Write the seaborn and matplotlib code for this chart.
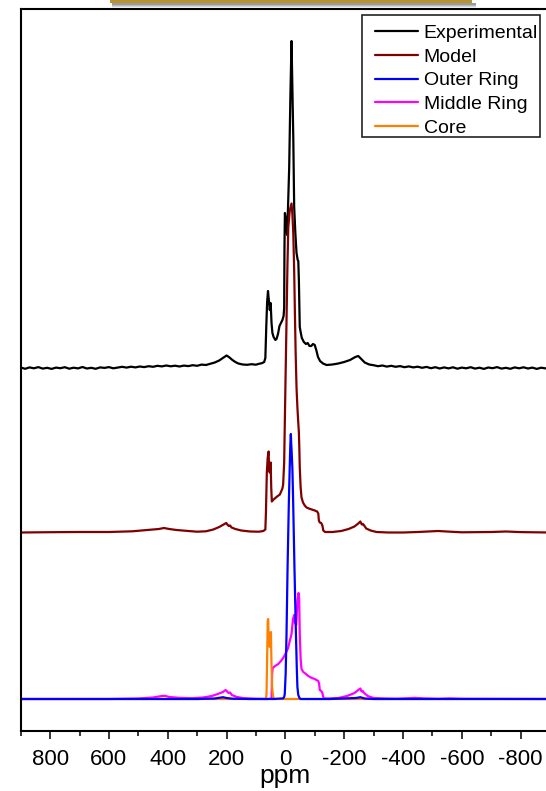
import numpy as np
import pandas as pd
import matplotlib
matplotlib.use("Agg")
import matplotlib.pyplot as plt
import matplotlib.ticker as mticker
from matplotlib.patches import Rectangle
import seaborn as sns

# ── Data (ppm positions, intensity above each trace's own baseline) ──
exp_ppm = [900, 885, 870, 855, 840, 825, 810, 795, 780, 765, 750, 735, 720, 705, 690, 675, 660, 645,
           630, 615, 600, 585, 570, 555, 540, 525, 510, 495, 480, 465, 450, 435, 420, 405, 390, 375,
           360, 345, 330, 315, 300, 285, 270, 255, 240, 225, 210, 200, 192, 180, 170, 160, 145, 130,
           115, 100, 90, 80, 72, 68, 65, 62, 59, 56, 53, 50, 47, 44, 40, 34, 30, 25, 20, 15, 10, 6,
           4, 3, 1.5, -1, -3, -6, -9, -13, -17, -21, -24, -27, -30, -34, -38, -42, -44, -46, -49, -52,
           -56, -63, -70, -76, -82, -88, -94, -100, -106, -111, -118, -128, -140, -160, -180, -200,
           -220, -238, -248, -258, -270, -285, -300, -315, -330, -345, -360, -375, -390, -405, -420,
           -435, -450, -465, -480, -495, -510, -525, -540, -555, -570, -585, -600, -615, -630, -645,
           -660, -675, -690, -705, -720, -735, -750, -765, -780, -795, -810, -825, -840, -855, -870,
           -885, -900]
exp_int = [0.5, -0.8, 0.6, -0.3, 0.9, -0.6, 0.2, -0.9, 0.4, -0.2, 0.8, -0.7, 0.3, -0.4, 1.0, -0.5, 0.2, -0.8,
           0.6, 0.1, 0.9, -0.3, 0.5, 1.2, 0.4, 1.3, 0.6, 1.5, 0.9, 1.8, 1.2, 2.2, 1.6, 2.5, 1.7, 2.3,
           1.5, 2.4, 1.9, 2.8, 2.2, 3.4, 3.0, 4.3, 5.5, 7.5, 10.5, 12.5, 11, 8, 6, 4.5, 3.5, 3.2,
           3.8, 3.3, 4.2, 4.8, 6, 10, 40, 66, 77, 68, 58, 65, 45, 35, 31, 28, 29, 34, 42, 45, 48, 52,
           60, 120, 155, 150, 145, 133, 160, 200, 270, 327, 280, 230, 161, 135, 115, 108, 107, 88, 41, 36,
           30, 26, 24, 25, 22, 22, 24, 23, 17, 11, 7, 4.5, 3, 3.5, 4.5, 6,
           8, 11, 12, 9, 5.5, 3.5, 2.8, 1.8, 2.5, 1.4, 2.2, 1.2, 1.9, 0.8, 1.6,
           0.6, 1.3, 0.2, 1.1, -0.2, 0.8, -0.5, 0.6, -0.4, 0.7, -0.7, 0.4, -0.3, 0.8, -0.6,
           0.3, -0.9, 0.5, -0.2, 0.9, -0.6, 0.2, -0.8, 0.6, -0.3, 0.7, -0.5, 0.4, -0.9, 0.3,
           -0.4, 0.5]

model_ppm = [900, 800, 700, 600, 520, 470, 430, 413, 395, 370, 330, 300, 270, 245, 225, 210, 201, 196,
             192, 188, 183, 170, 150, 120, 90, 75, 68, 66, 63, 60, 57, 55, 53, 50, 48, 46, 40, 36, 28,
             18.7, 10, 7.5, 4, 1.7, -1, -4, -7, -10, -15, -21, -24, -27, -30, -32.5, -35, -38, -41,
             -43.5, -45, -46, -47.5, -49, -52, -55, -60, -66, -72, -80, -90, -100, -108, -112, -114,
             -117, -122, -126, -129, -135, -160, -190, -215, -235, -248, -255, -260, -264, -268, -275,
             -290, -310, -350, -400, -450, -520, -560, -600, -700, -750, -800, -900]
model_int = [0, 0.3, 0.5, 0.5, 1.2, 2.5, 3.5, 4.5, 3.5, 2.5, 1.5, 0.8, 1.2, 3, 5.5, 8, 9.5, 7.5,
             6.5, 7, 5, 3.5, 2, 1, 0.8, 1.5, 3, 20, 60, 75, 81, 62, 60, 70, 45, 31, 33, 34, 36,
             38, 44, 48, 70, 112, 160, 212, 265, 305, 322, 329, 318, 299, 262, 219, 180, 145, 125,
             112, 105, 100, 85, 65, 45, 35, 30, 27, 25, 24, 23, 22, 21, 19, 12,
             10, 9.5, 7, 2, 0.5, 0.5, 1.5, 3.5, 6, 9, 11, 8, 8.5, 7, 4,
             2, 0.5, 0, 0, 0.5, 1.5, 0.8, 0.2, 0.5, 1, 0.4, 0]

outer_ppm = [900, 300, 240, 212, 200, 180, 120, 40, 15, 8, 4, 2, -1, -4, -7.5, -12, -16, -17, -18.7,
             -20, -21, -24, -26.5, -31, -36, -39, -41, -44, -48, -52, -150, -240, -255, -270, -300, -900]
outer_int = [0, 0, 0.5, 1.8, 1, 0.3, 0, 0, 0.5, 0.5, 2, 5, 25, 65, 131, 198, 245, 255, 265,
             255, 250, 230, 198, 131, 65, 30, 12, 4, 1, 0, 0, 1, 1.8, 0.5, 0, 0]

middle_ppm = [900, 600, 500, 450, 420, 410, 395, 360, 320, 280, 250, 230, 212, 203, 198, 193, 188, 182,
              165, 140, 100, 60, 47, 45, 43, 35, 24, 15, 7.5, 0, -9.5, -15, -21, -26, -30, -33, -37,
              -41, -45, -47, -49, -52, -55, -61, -70, -78, -90, -100, -106, -112, -115, -117, -122,
              -126, -128, -131, -150, -180, -210, -235, -248, -255, -259, -263, -268, -280, -300,
              -340, -380, -420, -440, -470, -520, -560, -600, -900]
middle_int = [0, 0, 0.5, 1.5, 3, 3.2, 2, 1.2, 0.8, 1.5, 3, 5, 7, 9, 7.5, 6, 6.5, 4,
              2, 0.8, 0.2, 0, 0.5, 25, 31, 33, 35, 38, 41, 45, 51, 58, 65, 80, 84, 76, 74,
              98, 106, 100, 65, 40, 30, 27, 25, 23, 21, 20, 19, 18, 15, 9, 8,
              6, 3, 0.5, 0.5, 1, 3, 6, 9, 10.5, 7.5, 8, 6, 3, 1,
              0.5, 0.3, 0.8, 1.2, 0.6, 0.2, 0.6, 0.2, 0]

core_ppm = [900, 70, 66, 64, 62, 60, 58.5, 57, 55, 53, 51, 49, 47.5, 45, 42, 39, 36, -900]
core_int = [0, 0, 0, 5, 40, 78, 80, 65, 55, 52, 60, 67, 40, 12, 3, 0.5, 0, 0]

# vertical stacking offsets (same units as intensities)
offsets = {"Experimental": 331, "Model": 166.5, "Outer Ring": 0, "Middle Ring": 0, "Core": 0}
colors = {"Experimental": "black", "Model": "#800000", "Outer Ring": "#0000ff",
          "Middle Ring": "#ff00ff", "Core": "#ff8000"}

series = {
    "Experimental": (exp_ppm, exp_int),
    "Model": (model_ppm, model_int),
    "Middle Ring": (middle_ppm, middle_int),
    "Core": (core_ppm, core_int),
    "Outer Ring": (outer_ppm, outer_int),
}

sns.set_style("ticks")
plt.rcParams["font.family"] = ["Liberation Sans", "DejaVu Sans"]
plt.rcParams["axes.unicode_minus"] = False
plt.rcParams.update({"text.color": "black", "xtick.color": "black",
                     "axes.labelcolor": "black", "axes.edgecolor": "black"})

fig = plt.figure(figsize=(5.46, 7.91), dpi=100)
W, H = 546, 791
ax = fig.add_axes([20.7 / W, (H - 731) / H, (550 - 20.7) / W, (731 - 9) / H])

handles = {}
for name, (xs, ys) in series.items():
    df = pd.DataFrame({"ppm": xs, "intensity": np.array(ys) + offsets[name]})
    sns.lineplot(data=df, x="ppm", y="intensity", sort=False, estimator=None,
                 color=colors[name], linewidth=1.6, ax=ax)
    handles[name] = ax.lines[-1]

ax.set_xlim(900, -900)
ax.set_ylim(-32, 690)
ax.set_yticks([])
ax.set_ylabel("")
ax.set_xticks(range(800, -801, -200))
ax.xaxis.set_minor_locator(mticker.MultipleLocator(100))
ax.tick_params(axis="x", which="major", length=6, width=1.1, labelsize=16, pad=7,
               direction="out", colors="black")
ax.tick_params(axis="x", which="minor", length=3.4, width=1.1, direction="out", colors="black")
ax.set_xlabel("ppm", fontsize=19, labelpad=-4, color="black")
for sp in ax.spines.values():
    sp.set_linewidth(1.5)
    sp.set_color("black")

order = ["Experimental", "Model", "Outer Ring", "Middle Ring", "Core"]
fig.legend([handles[n] for n in order], order, loc="upper left",
           bbox_to_anchor=(375 / W, 1 - 24.5 / H), frameon=False, fontsize=14,
           handlelength=2.2, handletextpad=0.3, labelspacing=0.31, borderpad=0,
           borderaxespad=0, labelcolor="black")

# legend box and decorative title bar at the top
fig.add_artist(Rectangle((362 / W, 1 - 137 / H), (540 - 362) / W, (137 - 15) / H,
                         transform=fig.transFigure, facecolor="none", edgecolor="#222222", lw=1.2))
for i, c in enumerate(["#9a9a9a", "#b8b8b8", "#d4d4d4", "#ececec"]):
    fig.add_artist(Rectangle((112 / W, 1 - (4.5 + i * 1.1) / H), (476 - 112) / W, 1.1 / H,
                             transform=fig.transFigure, color=c, lw=0))
fig.add_artist(Rectangle((110 / W, 1 - 3.4 / H), (472 - 110) / W, 3.4 / H,
                         transform=fig.transFigure, color="#b8922e", lw=0))

fig.savefig("out.png", dpi=100)
